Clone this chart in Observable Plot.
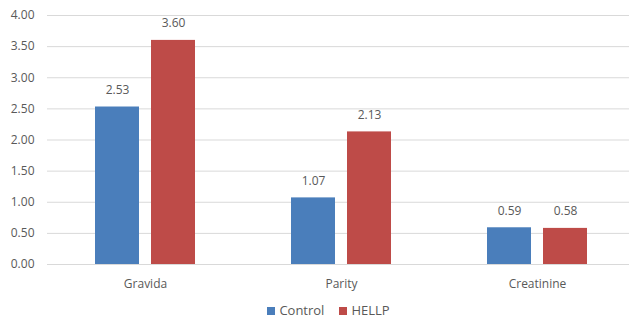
<!DOCTYPE html>
<html>
<head>
<meta charset="utf-8">
<script src="https://cdn.jsdelivr.net/npm/d3@7"></script>
<script src="https://cdn.jsdelivr.net/npm/@observablehq/plot@0.6"></script>
<style>
  html, body { margin: 0; padding: 0; background: #fff; overflow: hidden; }
  #chart { width: 629px; height: 321px; position: relative; font-family: "Open Sans", sans-serif; overflow: hidden; }
  #chart svg { max-width: none !important; display: block; }
  .legend { display: flex; justify-content: center; gap: 15px; font-size: 13px; color: #595959; margin-top: 6px; padding-left: 28px; }
  .legend span.sw { display: inline-block; width: 8px; height: 8px; margin-right: 4px; vertical-align: 0px; }
</style>
</head>
<body>
<div id="chart"></div>
<script>
const categories = ["Gravida", "Parity", "Creatinine"];
const series = ["Control", "HELLP"];
const controlValues = [2.53, 1.07, 0.59];
const hellpValues = [3.60, 2.13, 0.58];
const yTicks = [0, 0.5, 1, 1.5, 2, 2.5, 3, 3.5, 4];
const colors = ["#4a7ebb", "#be4b48"];

const data = [];
categories.forEach((c, i) => {
  data.push({category: c, series: "Control", value: controlValues[i]});
  data.push({category: c, series: "HELLP", value: hellpValues[i]});
});

const plot = Plot.plot({
  width: 635,
  height: 295,
  marginLeft: 47,
  marginRight: 0,
  marginTop: 15,
  marginBottom: 31,
  style: {fontFamily: "Open Sans, sans-serif", fontSize: "12px", color: "#595959", background: "#fff", maxWidth: "none"},
  fx: {domain: categories, padding: 0, label: null, tickSize: 0, tickPadding: 15},
  x: {domain: series, paddingInner: 0.2143, paddingOuter: 0.857, axis: null},
  y: {domain: [0, 4], ticks: yTicks, tickFormat: d3.format(".2f"), label: null, tickSize: 0, tickPadding: 13},
  color: {domain: series, range: colors},
  marks: [
    Plot.gridY(yTicks, {stroke: "#d9d9d9", strokeOpacity: 1, facet: "exclude"}),
    Plot.barY(data, {fx: "category", x: "series", y: "value", fill: "series"}),
    Plot.text(data, {fx: "category", x: "series", y: "value", text: d => d.value.toFixed(2), dy: -17, fill: "#595959", fontSize: 12})
  ]
});

const chart = document.getElementById("chart");
chart.appendChild(plot);
const legend = document.createElement("div");
legend.className = "legend";
series.forEach((s, i) => {
  const item = document.createElement("div");
  item.innerHTML = `<span class="sw" style="background:${colors[i]}"></span>${s}`;
  legend.appendChild(item);
});
chart.appendChild(legend);
</script>
</body>
</html>
